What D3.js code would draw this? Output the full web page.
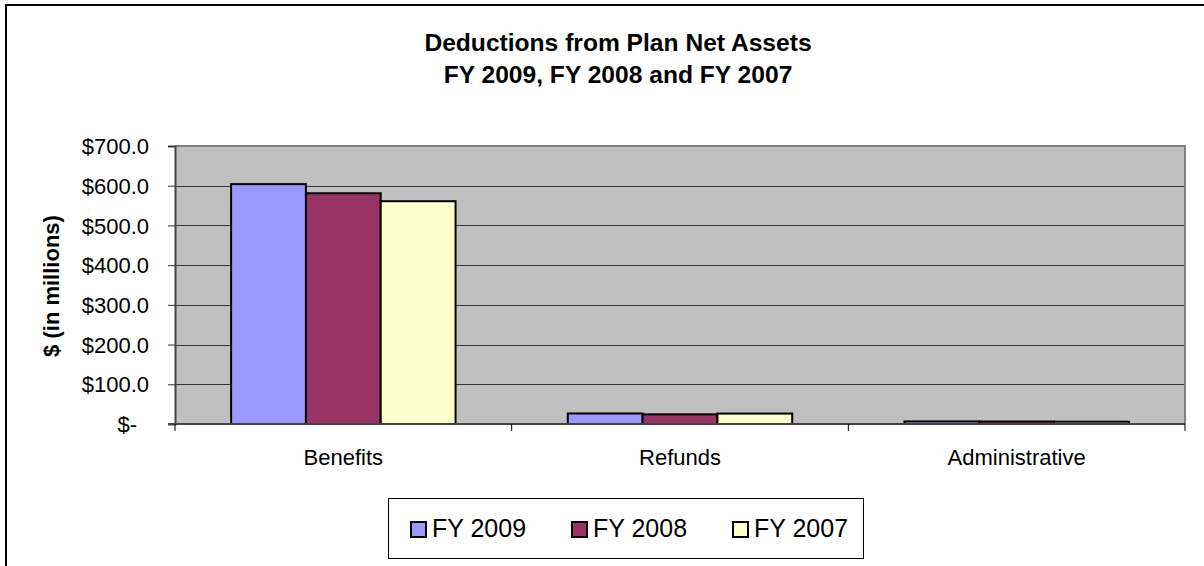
<!DOCTYPE html>
<html>
<head>
<meta charset="utf-8">
<script src="https://cdn.jsdelivr.net/npm/d3@7"></script>
<style>
  html, body { margin: 0; padding: 0; background: #fff; }
  svg { display: block; font-family: Arial, "Liberation Sans", sans-serif; }
</style>
</head>
<body>
<svg id="chart" width="1204" height="566"></svg>
<script>
// Deductions from plan net assets, $ in millions
const categories = ["Benefits", "Refunds", "Administrative"];
const seriesNames = ["FY 2009", "FY 2008", "FY 2007"];
const fy2009 = [604.0, 26.5, 6.5];
const fy2008 = [581.0, 24.3, 6.3];
const fy2007 = [561.0, 26.3, 5.8];
const yTicks = [0, 100, 200, 300, 400, 500, 600, 700];
const titleLines = ["Deductions from Plan Net Assets", "FY 2009, FY 2008 and FY 2007"];
const yTitle = "$ (in millions)";

const seriesValues = [fy2009, fy2008, fy2007];
const colors = ["#9999FF", "#993366", "#FFFFCC"];

const svg = d3.select("#chart");
const plot = { left: 175, right: 1185, top: 146, bottom: 424 };

// chart-area frame
svg.append("rect")
  .attr("x", 6).attr("y", 5).attr("width", 1240).attr("height", 600)
  .attr("fill", "#fff").attr("stroke", "#000").attr("stroke-width", 2);

// title
svg.append("g").selectAll("text").data(titleLines).join("text")
  .attr("x", 618).attr("y", (d, i) => 51 + i * 32)
  .attr("text-anchor", "middle")
  .attr("font-weight", "bold").attr("font-size", 24.6)
  .attr("fill", "#000")
  .text(d => d);

const x0 = d3.scaleBand().domain(categories).range([plot.left, plot.right]);
// gap width of 150% between groups
const barW = x0.bandwidth() / (3 + 1.5);
const x1 = d3.scaleBand().domain(seriesNames).range([0, barW * 3]);
const y = d3.scaleLinear().domain([0, 700]).range([plot.bottom, plot.top]);

// plot background
svg.append("rect")
  .attr("x", plot.left).attr("y", plot.top)
  .attr("width", plot.right - plot.left).attr("height", plot.bottom - plot.top)
  .attr("fill", "#C0C0C0");

// gridlines
svg.append("g").selectAll("line").data(yTicks.filter(t => t > 0 && t < 700)).join("line")
  .attr("x1", plot.left).attr("x2", plot.right)
  .attr("y1", d => Math.round(y(d)) + 0.5).attr("y2", d => Math.round(y(d)) + 0.5)
  .attr("stroke", "#333").attr("stroke-width", 1);

// plot border (top/right)
svg.append("path")
  .attr("d", `M${plot.left},${plot.top}H${plot.right}V${plot.bottom}`)
  .attr("fill", "none").attr("stroke", "#808080").attr("stroke-width", 2);

// bars
const groups = svg.append("g").selectAll("g").data(categories).join("g")
  .attr("transform", c => `translate(${x0(c) + (x0.bandwidth() - barW * 3) / 2},0)`);
groups.selectAll("rect")
  .data((c, ci) => seriesNames.map((s, si) => ({ s, si, v: seriesValues[si][ci] })))
  .join("rect")
  .attr("x", d => x1(d.s))
  .attr("y", d => y(d.v))
  .attr("width", x1.bandwidth())
  .attr("height", d => y(0) - y(d.v))
  .attr("fill", d => colors[d.si])
  .attr("stroke", "#000").attr("stroke-width", 2);

// y axis
const yAxis = d3.axisLeft(y).tickValues(yTicks).tickSize(7).tickPadding(19)
  .tickFormat(d => d === 0 ? "$-" : "$" + d3.format(".1f")(d));
const gy = svg.append("g").attr("transform", `translate(${plot.left},0)`).call(yAxis);
gy.select(".domain").attr("stroke", "#444").attr("stroke-width", 2);
gy.selectAll(".tick line").attr("stroke", "#333");
gy.selectAll(".tick text").attr("font-size", 22).attr("fill", "#000")
  .attr("font-family", "Arial, 'Liberation Sans', sans-serif")
  .attr("dy", "0.35em");
gy.selectAll(".tick").filter(d => d === 0).select("text").attr("x", -38);

// x axis with tick marks between categories
const xEdges = categories.map(c => x0(c)).concat([plot.right]);
svg.append("line")
  .attr("x1", plot.left - 7).attr("x2", plot.right)
  .attr("y1", plot.bottom).attr("y2", plot.bottom)
  .attr("stroke", "#444").attr("stroke-width", 2);
svg.append("g").selectAll("line").data(xEdges).join("line")
  .attr("x1", d => d).attr("x2", d => d)
  .attr("y1", plot.bottom).attr("y2", plot.bottom + 7)
  .attr("stroke", "#000").attr("stroke-width", 1);
svg.append("g").selectAll("text").data(categories).join("text")
  .attr("x", c => x0(c) + x0.bandwidth() / 2)
  .attr("y", 465)
  .attr("text-anchor", "middle")
  .attr("font-size", 22).attr("fill", "#000")
  .text(c => c);

// y axis title
svg.append("text")
  .attr("transform", "translate(59,286) rotate(-90)")
  .attr("text-anchor", "middle")
  .attr("font-weight", "bold").attr("font-size", 22).attr("fill", "#000")
  .text(yTitle);

// legend
const legend = svg.append("g");
legend.append("rect")
  .attr("x", 388.5).attr("y", 498.5).attr("width", 475).attr("height", 60)
  .attr("fill", "#fff").attr("stroke", "#000").attr("stroke-width", 1);
const items = legend.selectAll("g").data(seriesNames).join("g")
  .attr("transform", (d, i) => `translate(${411 + i * 161},0)`);
items.append("rect")
  .attr("x", 0).attr("y", 522).attr("width", 15).attr("height", 15)
  .attr("fill", (d, i) => colors[i]).attr("stroke", "#000").attr("stroke-width", 2);
items.append("text")
  .attr("x", 21).attr("y", 537)
  .attr("font-size", 25).attr("fill", "#000")
  .text(d => d);
</script>
</body>
</html>
